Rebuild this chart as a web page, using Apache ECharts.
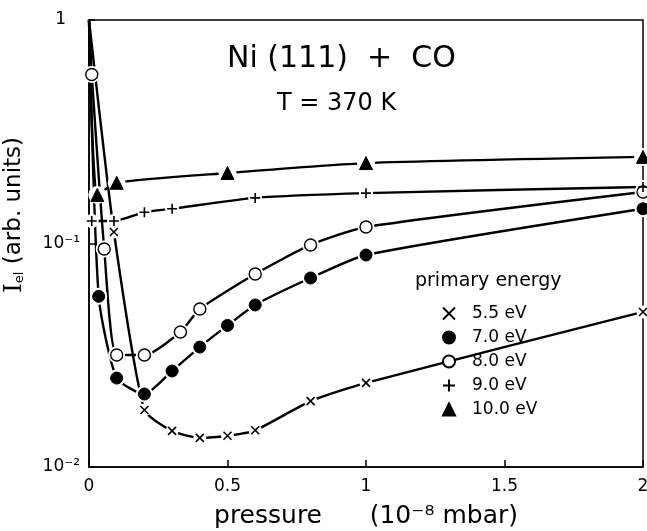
<!DOCTYPE html>
<html>
<head>
<meta charset="utf-8">
<script src="https://cdn.jsdelivr.net/npm/echarts@6/dist/echarts.min.js"></script>
<style>html,body{margin:0;padding:0;background:#fff;}#c{width:647px;height:531px;}</style>
</head>
<body>
<div id="c"></div>
<script>
// ---- data ----
const energies = ['5.5 eV', '7.0 eV', '8.0 eV', '9.0 eV', '10.0 eV'];
const startY = [1.0, 1.0, 1.0, null, 1.0]; // value at p = 0 (line only, no marker)
const x55 = [0.09, 0.2, 0.3, 0.4, 0.5, 0.6, 0.8, 1.0, 2.0];
const y55 = [0.1126, 0.018, 0.0145, 0.0135, 0.0138, 0.0146, 0.0197, 0.0238, 0.0494];
const x70 = [0.035, 0.1, 0.2, 0.3, 0.4, 0.5, 0.6, 0.8, 1.0, 2.0];
const y70 = [0.058, 0.025, 0.0212, 0.0269, 0.0344, 0.043, 0.0531, 0.0701, 0.0888, 0.143];
const x80 = [0.01, 0.055, 0.1, 0.2, 0.33, 0.4, 0.6, 0.8, 1.0, 2.0];
const y80 = [0.57, 0.0945, 0.0317, 0.0317, 0.0402, 0.0509, 0.073, 0.0985, 0.1185, 0.170];
const x90 = [0.01, 0.09, 0.2, 0.3, 0.6, 1.0, 2.0];
const y90 = [0.126, 0.126, 0.138, 0.143, 0.160, 0.168, 0.179];
const x100 = [0.03, 0.1, 0.5, 1.0, 2.0];
const y100 = [0.165, 0.187, 0.2067, 0.229, 0.244];
const xTicks = [0, 0.5, 1, 1.5, 2];

const xs = [x55, x70, x80, x90, x100];
const ys = [y55, y70, y80, y90, y100];

const CROSS = 'path://M0,0L10,10M10,0L0,10';
const PLUS = 'path://M5,0L5,10M0,5L10,5';
const symbols = [CROSS, 'circle', 'circle', PLUS, 'triangle'];
const symSizes = [8, 12, 12, 10, 13];
const haloSizes = [13, 17, 17, 14, 18];
const fills = ['#000', '#000', '#fff', '#000', '#000'];
const bw = [1.6, 1, 1.4, 1.6, 1];

const FONT = 'DejaVu Sans';
const series = [];
energies.forEach((name, i) => {
  const pts = xs[i].map((x, k) => [x, ys[i][k]]);
  const linePts = startY[i] != null ? [[0, startY[i]]].concat(pts) : pts;
  series.push({
    type: 'line', data: linePts, showSymbol: false, silent: true, z: 2,
    smooth: 0.2,
    lineStyle: { color: '#000', width: 2.4 }
  });
  series.push({
    type: 'scatter', data: pts, symbol: 'circle', symbolSize: haloSizes[i], silent: true, z: 3,
    itemStyle: { color: '#fff', opacity: 1 }
  });
  series.push({
    name: name, type: 'scatter', data: pts, symbol: symbols[i], symbolSize: symSizes[i], z: 4,
    itemStyle: { color: fills[i], borderColor: '#000', borderWidth: bw[i], opacity: 1 }
  });
});

const chart = echarts.init(document.getElementById('c'));
chart.setOption({
  animation: false,
  backgroundColor: '#fff',
  grid: { left: 89, right: 4, top: 20, bottom: 64, show: true, borderColor: '#000', borderWidth: 1.5,
          containLabel: false, outerBoundsMode: 'none' },
  xAxis: {
    type: 'value', min: 0, max: 2, interval: 0.5,
    name: 'pressure      (10⁻⁸ mbar)', nameLocation: 'middle', nameGap: 37,
    nameTextStyle: { fontFamily: FONT, fontSize: 25, color: '#000' },
    axisLine: { lineStyle: { color: '#000', width: 1.5 } },
    axisTick: { inside: true, length: 7, lineStyle: { color: '#000', width: 1.5 } },
    axisLabel: { fontFamily: FONT, fontSize: 17, color: '#000', margin: 11,
      formatter: v => { const t = xTicks.find(q => Math.abs(q - v) < 1e-9); return t === undefined ? '' : String(t); } },
    splitLine: { show: false }
  },
  yAxis: {
    type: 'log', logBase: 10, min: 0.01, max: 1,
    axisLine: { lineStyle: { color: '#000', width: 1.5 } },
    axisTick: { inside: true, length: 6, lineStyle: { color: '#000', width: 1.5 } },
    minorTick: { show: false },
    axisLabel: { fontFamily: FONT, fontSize: 17, color: '#000', margin: 9,
      formatter: v => { const e = Math.round(Math.log10(v)); return e === 0 ? '{one|1}' : (e === -1 ? '10⁻¹' : '10⁻²'); },
      rich: { one: { fontFamily: FONT, fontSize: 17, color: '#000', padding: [0, 14, 0, 0] } } },
    splitLine: { show: false }
  },
  legend: {
    data: energies, orient: 'vertical', left: 437, top: 300, itemGap: 7,
    itemWidth: 12, itemHeight: 12,
    textStyle: { fontFamily: FONT, fontSize: 17, color: '#000', padding: [0, 0, 0, 12] }
  },
  graphic: [
    { type: 'text', left: 227, top: 44, style: { text: 'Ni (111)  +  CO', font: '30px "DejaVu Sans"', fill: '#000' } },
    { type: 'text', left: 277, top: 92, style: { text: 'T = 370 K', font: '24px "DejaVu Sans"', fill: '#000' } },
    { type: 'text', left: 415, top: 272, style: { text: 'primary energy', font: '19px "DejaVu Sans"', fill: '#000' } },
    { type: 'text', x: 14, y: 215, rotation: Math.PI / 2,
      style: { text: '{i|I}{s|el}{n| (arb. units)}', align: 'center', verticalAlign: 'middle',
        rich: { i: { font: '25px "DejaVu Serif"', fill: '#000' },
                s: { font: '13px "DejaVu Sans"', fill: '#000', padding: [11, 0, 0, 0] },
                n: { font: '23px "DejaVu Sans"', fill: '#000' } } } }
  ],
  series: series
});
</script>
</body>
</html>
